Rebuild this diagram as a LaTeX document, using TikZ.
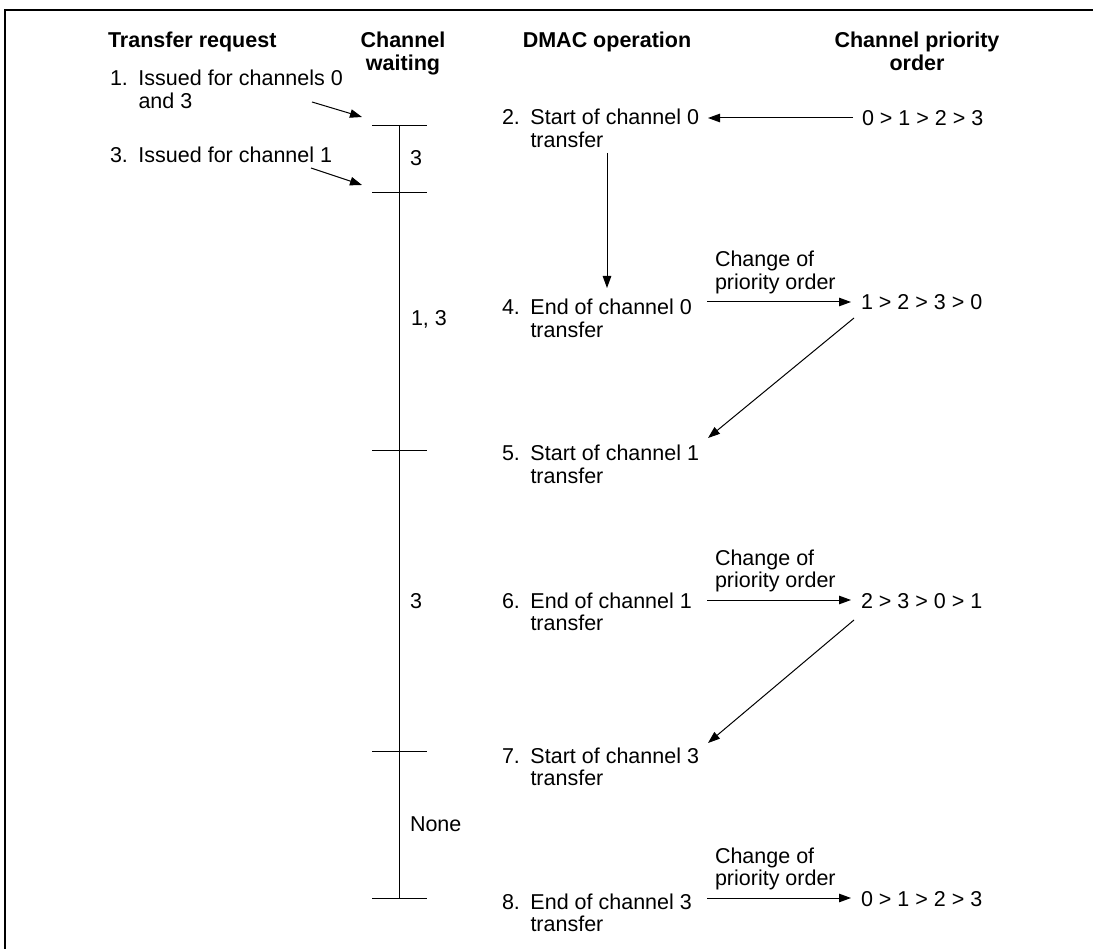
\documentclass[tikz,border=0pt]{standalone}
\usepackage{fontspec}
\setmainfont{Liberation Sans}
\usetikzlibrary{arrows.meta}
\newcommand\ditem[3]{\begin{tabular}[t]{@{}l@{}l@{}}\makebox[28.5pt][l]{#1}&#2\\&#3\end{tabular}}
\newcommand\twol[2]{\begin{tabular}[t]{@{}l@{}}#1\\#2\end{tabular}}
\newcommand\twoc[2]{\begin{tabular}[t]{@{}c@{}}#1\\#2\end{tabular}}
\begin{document}
\begin{tikzpicture}[x=1pt,y=-1pt,
  every node/.style={inner sep=0pt,outer sep=0pt,font=\fontsize{21.5}{22.3}\selectfont},
  lbl/.style={anchor=base west},
  head/.style={anchor=base,font=\fontsize{21.5}{22.3}\selectfont\bfseries},
  conn/.style={line width=1pt,-{Triangle[length=12pt,width=8.5pt]}},
  tickline/.style={line width=1pt},
  frameline/.style={line width=2pt}]
\useasboundingbox (0,0) rectangle (1093,949);
% frame
\draw[frameline] (5,949) -- (5,10) -- (1093,10);
% headings
\node[head,anchor=base west] (h1) at (108,48) {Transfer request};
\node[head] (h2) at (403,48) {\twoc{Channel}{waiting}};
\node[head] (h3) at (607,48) {DMAC operation};
\node[head] (h4) at (917,48) {\twoc{Channel priority}{order}};
% transfer requests
\node[lbl] (i1) at (110,86) {\ditem{1.}{Issued for channels 0}{and 3}};
\node[lbl] (i3) at (110,163) {\makebox[28.5pt][l]{3.}Issued for channel 1};
% DMAC operations
\node[lbl] (i2) at (502,125) {\ditem{2.}{Start of channel 0}{transfer}};
\node[lbl] (i4) at (502,315) {\ditem{4.}{End of channel 0}{transfer}};
\node[lbl] (i5) at (502,461) {\ditem{5.}{Start of channel 1}{transfer}};
\node[lbl] (i6) at (502,608) {\ditem{6.}{End of channel 1}{transfer}};
\node[lbl] (i7) at (502,763) {\ditem{7.}{Start of channel 3}{transfer}};
\node[lbl] (i8) at (502,909) {\ditem{8.}{End of channel 3}{transfer}};
% priority orders
\node[lbl] (p0) at (862,126) {0 > 1 > 2 > 3};
\node[lbl] (p1) at (861,310) {1 > 2 > 3 > 0};
\node[lbl] (p2) at (861,608) {2 > 3 > 0 > 1};
\node[lbl] (p3) at (861,906) {0 > 1 > 2 > 3};
% change labels
\node[lbl] (c1) at (715,267) {\twol{Change of}{priority order}};
\node[lbl] (c2) at (715,565) {\twol{Change of}{priority order}};
\node[lbl] (c3) at (715,863) {\twol{Change of}{priority order}};
% waiting labels
\node[lbl] (w1) at (410,166) {3};
\node[lbl] (w2) at (411,326) {1, 3};
\node[lbl] (w3) at (410,608) {3};
\node[lbl] (w4) at (410,831) {None};
% timeline
\coordinate (t0) at (399,126);
\coordinate (t1) at (399,193);
\coordinate (t2) at (399,451);
\coordinate (t3) at (399,751);
\coordinate (t4) at (399,898);
\draw[tickline] (t0) -- (t4);
\foreach \t in {t0,t1,t2,t3,t4}{
  \draw[tickline] ([xshift=-27pt]\t) -- ([xshift=28pt]\t);
}
% connector end points
\coordinate (a1s) at (312,102); \coordinate (a1e) at (362,117);
\coordinate (a3s) at (311,168); \coordinate (a3e) at (362,185);
\coordinate (q0s) at (853,118); \coordinate (q0e) at (708,118);
\coordinate (vs) at (607,153);  \coordinate (ve) at (607,288);
\coordinate (h1s) at (707,302); \coordinate (h1e) at (851,302);
\coordinate (h2s) at (707,600); \coordinate (h2e) at (851,600);
\coordinate (h3s) at (707,898); \coordinate (h3e) at (851,898);
\coordinate (d1s) at (854,318); \coordinate (d1e) at (708,438);
\coordinate (d2s) at (854,620); \coordinate (d2e) at (708,743);
% connectors
\draw[conn] (a1s) -- (a1e);
\draw[conn] (a3s) -- (a3e);
\draw[conn] (q0s) -- (q0e);
\draw[conn] (vs) -- (ve);
\draw[conn] (h1s) -- (h1e);
\draw[conn] (h2s) -- (h2e);
\draw[conn] (h3s) -- (h3e);
\draw[conn] (d1s) -- (d1e);
\draw[conn] (d2s) -- (d2e);
\end{tikzpicture}
\end{document}
